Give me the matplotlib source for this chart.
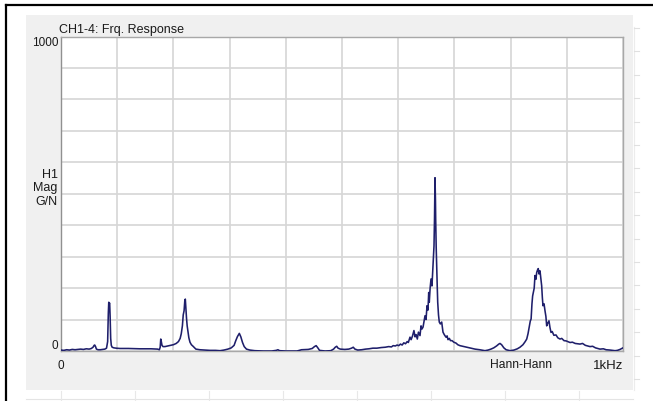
import matplotlib
matplotlib.use("Agg")
import matplotlib.pyplot as plt
from matplotlib.lines import Line2D
from matplotlib.patches import Rectangle

# frequency response (Hz, G/N)
freq = [0, 5, 10, 15, 20, 25, 30, 35, 40, 45, 50, 54, 57, 59, 60, 61.5, 63, 66, 70, 74,
        78, 81, 83, 84.2, 85, 85.8, 86.6, 87.4, 88.4, 89.5, 91, 94, 98, 105, 120, 140, 160, 172, 175, 176.5,
        177.5, 178.5, 179.7, 181.5, 185, 190, 195, 200, 205, 209, 212, 214, 216, 217.5, 219, 220.3, 221.2, 222.1, 223.3, 224.5,
        226, 227.5, 229.5, 232, 235, 240, 247, 255, 265, 275, 283, 290, 297, 303, 308, 311, 314, 317.3, 320, 323,
        326, 330, 336, 345, 360, 375, 383, 386, 389, 400, 420, 428, 440, 447, 451, 454, 457, 460, 470, 480,
        485, 488, 490.6, 493, 497, 505, 512, 517, 520, 523, 528, 535, 542, 548, 555, 562, 570, 577, 583, 588,
        591, 595, 598, 601, 604, 607, 610, 613, 616, 618, 621, 623, 625.5, 628, 630, 632, 634, 636, 638.8, 640.6,
        642.3, 644.2, 646, 647.7, 649.5, 651.3, 653, 654.3, 655.3, 656.8, 658.4, 660.1, 661.9, 663.7, 664.6, 665.5, 666.3, 666.7, 667.6, 668.5,
        669.4, 670.3, 671.7, 673.1, 675, 677.4, 679.7, 682, 685, 687, 688.6, 691, 693, 695.7, 699, 703, 706, 709.9, 715, 720,
        727, 736.7, 745, 754.4, 760, 765, 770, 775, 779, 781.1, 784, 788, 792, 799, 806, 812, 816.7, 822, 826, 828.7,
        831, 833, 835, 836.5, 838, 839.2, 840.4, 842, 843.4, 845, 846.5, 848, 849.2, 850.5, 852.3, 853.8, 855.3, 856.5, 857.6, 859.5,
        861.2, 862.8, 864.2, 866, 868.3, 870, 871.9, 874, 877, 880.8, 884, 887.9, 891, 895, 899, 905.7, 910, 915, 923.5, 928,
        933, 941.3, 946, 951, 959.1, 965, 970, 976.9, 981, 985.8, 990, 994.7, 998, 1000]
mag = [3, 2, 4, 3, 5, 4, 5, 6, 5, 7, 6, 8, 12, 18, 19, 14, 6, 4, 4, 5,
       6, 9, 30, 120, 155, 150, 152, 110, 40, 18, 12, 10, 9, 8, 8, 7, 7, 6, 4, 12,
       38, 30, 18, 14, 14, 16, 18, 20, 24, 30, 40, 55, 80, 115, 128, 160, 165, 140, 105, 80,
       62, 42, 28, 20, 15, 6, 4, 3, 2, 2, 1, 3, 6, 10, 18, 33, 46, 56, 45, 27,
       14, 6, 3, 1, 0, 0, 2, 4, 1, 0, 0, 4, 5, 8, 14, 17, 10, 2, 0, 1,
       6, 12, 15, 9, 6, 5, 6, 9, 12, 6, 3, 4, 6, 7, 9, 9, 11, 12, 14, 13,
       17, 16, 19, 17, 22, 19, 26, 23, 30, 27, 44, 36, 48, 65, 45, 52, 38, 60, 49, 80,
       70, 76, 95, 112, 100, 144, 130, 186, 155, 200, 229, 207, 271, 334, 420, 551, 480, 419, 330, 267,
       210, 155, 115, 92, 86, 92, 60, 52, 44, 48, 36, 40, 33, 33, 28, 25, 20, 17, 15, 13,
       10, 6, 4, 1, 3, 6, 10, 16, 22, 24, 20, 10, 4, 1, 3, 7, 12, 20, 30, 38,
       55, 75, 95, 102, 150, 175, 186, 200, 240, 228, 250, 258, 262, 245, 255, 230, 207, 170, 144, 150,
       128, 110, 80, 88, 96, 75, 59, 62, 50, 51, 42, 38, 40, 33, 32, 27, 28, 24, 22, 24,
       18, 14, 15, 10, 6, 7, 4, 3, 2, 1, 2, 5, 8, 10]

x_ticks = list(range(0, 1001, 100))
x_labels = ['0'] + [''] * 9 + ['1kHz']
y_ticks = list(range(0, 1001, 100))
y_labels = ['0'] + [''] * 9 + ['1000']

W, H = 653, 402
plt.rcParams['font.family'] = ['Liberation Sans', 'DejaVu Sans']

fig = plt.figure(figsize=(W / 100, H / 100), dpi=100, facecolor='white')


def fx(px):
    return px / W


def fy(py):
    return 1 - py / H


# window decoration around the panel
fig.add_artist(Rectangle((fx(26), fy(391)), fx(633) - fx(26), fy(16) - fy(391),
                         transform=fig.transFigure, facecolor='#f0f0f0', edgecolor='none', zorder=0))
fig.add_artist(Line2D([fx(6), fx(6)], [fy(6), 0], transform=fig.transFigure, color='black', lw=1.6))
fig.add_artist(Line2D([fx(6), 1], [fy(6), fy(6)], transform=fig.transFigure, color='black', lw=1.6))
fig.add_artist(Line2D([fx(26), fx(633)], [fy(400), fy(400)], transform=fig.transFigure, color='#e4e4e4', lw=0.8))
for px in range(61, 634, 74):
    fig.add_artist(Line2D([fx(px), fx(px)], [fy(392), 0], transform=fig.transFigure, color='#e8e8e8', lw=0.8))
fig.add_artist(Line2D([fx(634), fx(634)], [fy(28), fy(391)], transform=fig.transFigure, color='#ececec', lw=0.8))
for i in range(16):
    py = 29 + i * 23.4
    fig.add_artist(Line2D([fx(634), fx(639)], [fy(py), fy(py)], transform=fig.transFigure, color='#e0e0e0', lw=0.8))

ax = fig.add_axes([fx(61), fy(352), fx(623) - fx(61), fy(37.5) - fy(352)])
ax.set_facecolor('white')
ax.plot(freq, mag, color='#1f1f6b', lw=1.15, zorder=3)
ax.set_xlim(0, 1000)
ax.set_ylim(0, 1000)

ax.set_xticks(x_ticks, x_labels)
ax.set_yticks(y_ticks, y_labels)
ax.tick_params(length=0, labelsize=8.5, colors='#1a1a1a')
ax.tick_params(axis='x', pad=6)
ax.tick_params(axis='y', pad=2)
ylab = ax.get_yticklabels()
ylab[0].set_va('bottom')
ylab[-1].set_va('top')
xlab = ax.get_xticklabels()
xlab[-1].set_ha('right')
xlab[-1].set_fontsize(9.5)

ax.grid(True, color='#d6d6d6', lw=1.2)
for s in ax.spines.values():
    s.set_color('#a8a8a8')
    s.set_linewidth(1.0)
ax.spines['left'].set_color('#909090')

ax.set_title('CH1-4: Frq. Response', loc='left', fontsize=9, pad=3, color='#1a1a1a', x=-0.003)
ax.text(-0.006, 0.52, 'H1\nMag\nG/N', transform=ax.transAxes, ha='right', va='center',
        multialignment='right', fontsize=9, color='#1a1a1a')
ax.text(818, -0.0235, 'Hann-Hann', transform=ax.get_xaxis_transform(), ha='center', va='top',
        fontsize=8.7, color='#1a1a1a')

fig.savefig('out.png', dpi=100, facecolor='white')
